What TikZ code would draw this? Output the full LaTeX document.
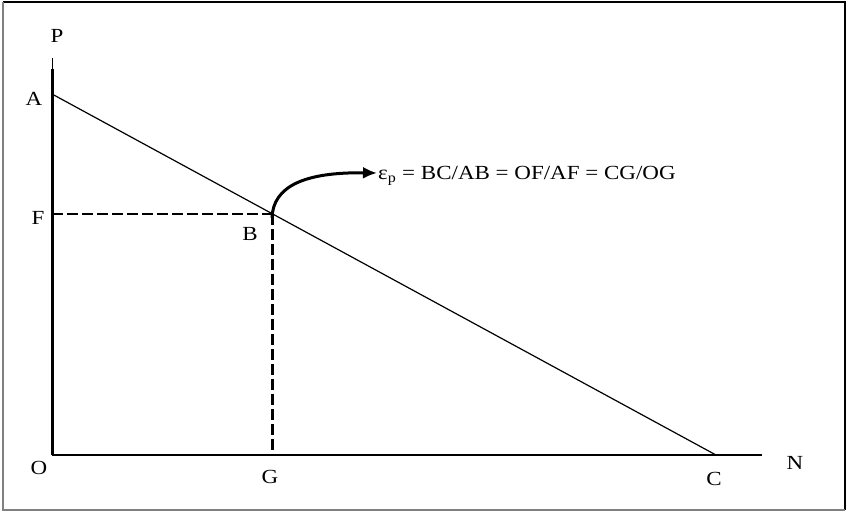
\documentclass[tikz,border=0pt]{standalone}
\usepackage{fontspec}
\setmainfont{Liberation Serif}
\usetikzlibrary{arrows.meta}
\newcommand\hstretch[1]{\scalebox{1.15}[1]{#1}}
\begin{document}
\begin{tikzpicture}[x=1pt,y=-1pt,
  lbl/.style={inner sep=0pt, font=\fontsize{20}{22}\selectfont},
  axisline/.style={line width=2pt},
  curve/.style={line width=1.2pt},
  guide/.style={dash pattern=on 11pt off 4pt},
  pointer/.style={line width=3pt, -{Latex[length=14pt,width=12pt]}}]
\useasboundingbox (0,0) rectangle (846,512);
% frame
\coordinate (tl) at (3,2); \coordinate (tr) at (845,2);
\coordinate (bl) at (3,510); \coordinate (br) at (845,510);
\draw[line width=1.5pt] (tl) -- (tr) -- (br);
\draw[line width=1.5pt, gray] (tl) -- (bl) -- (br);
% points
\coordinate (O) at (52,455);
\coordinate (A) at (52,94);
\coordinate (C) at (716,455);
\coordinate (B) at (272,214);
\coordinate (F) at (52,214);
\coordinate (G) at (272,455);
\coordinate (Ptop) at (52,58);
\coordinate (Pmid) at (52,69);
\coordinate (Nend) at (762,455);
\coordinate (tip) at (377,173);
% axes
\draw[line width=1pt] (Ptop) -- (Pmid);
\draw[line width=3pt] (Pmid) -- (O);
\draw[axisline] (O) -- (Nend);
% demand line
\draw[curve] (A) -- (C);
% dashed guides
\draw[guide, line width=2pt] (F) -- (B);
\draw[guide, line width=3pt] (B) -- (G);
% pointer
\draw[pointer] ([yshift=-4pt]B) .. controls (273,186) and (305,172) .. (tip);
% labels
\node[lbl] (lP) at (57,36) {\hstretch{P}};
\node[lbl] (lA) at (34,99) {\hstretch{A}};
\node[lbl] (lF) at (38,218) {\hstretch{F}};
\node[lbl] (lB) at (250,234) {\hstretch{B}};
\node[lbl] (lO) at (39,468) {\hstretch{O}};
\node[lbl] (lG) at (270,477) {\hstretch{G}};
\node[lbl] (lC) at (714,479) {\hstretch{C}};
\node[lbl] (lN) at (795,463) {\hstretch{N}};
\node[lbl, anchor=base west] (eq) at (378,179) {\hstretch{ε\textsubscript{p} = BC/AB = OF/AF = CG/OG}};
\end{tikzpicture}
\end{document}
